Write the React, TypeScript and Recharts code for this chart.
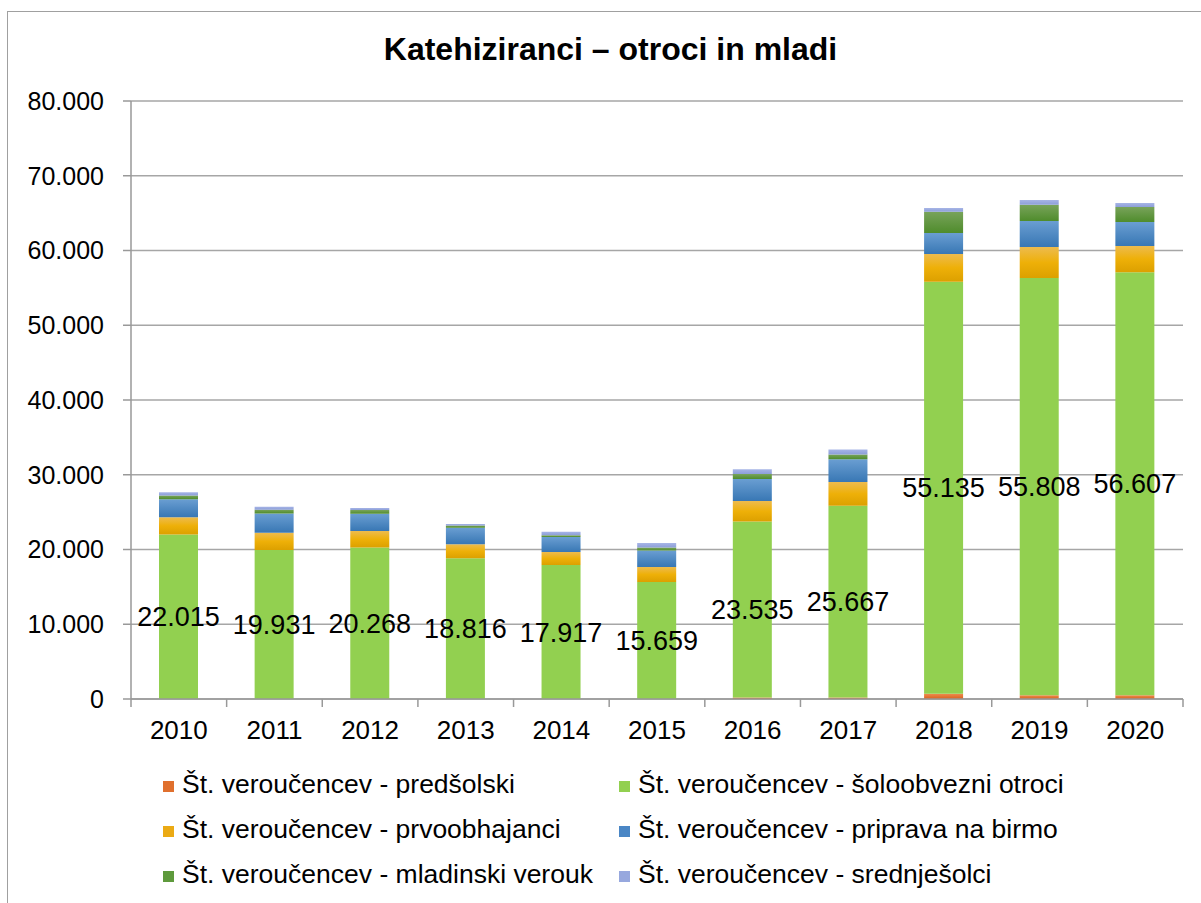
import React from "react"
import { BarChart, Bar, XAxis, YAxis, CartesianGrid, Legend, LabelList } from "recharts"

// Katehiziranci – otroci in mladi: stacked bars per year, 6 groups of pupils.

const years = ["2010", "2011", "2012", "2013", "2014", "2015", "2016", "2017", "2018", "2019", "2020"]
const predsolski = [0, 0, 0, 0, 0, 0, 200, 200, 700, 500, 500]
const soloobvezni = [22015, 19931, 20268, 18816, 17917, 15659, 23535, 25667, 55135, 55808, 56607]
const prvoobhajanci = [2300, 2300, 2200, 1900, 1750, 2000, 2750, 3150, 3700, 4150, 3500]
const birma = [2400, 2600, 2300, 2200, 2000, 2200, 2950, 3050, 2800, 3500, 3200]
const mladinski = [500, 500, 500, 300, 250, 400, 650, 650, 2850, 2150, 2000]
const srednjesolci = [450, 400, 300, 200, 450, 600, 650, 650, 500, 650, 550]
const yTicks = [0, 10000, 20000, 30000, 40000, 50000, 60000, 70000, 80000]

const SERIES = [
  { key: "predsolski", name: "Št. veroučencev - predšolski", fill: "url(#gOrange)", swatch: "#E0702E" },
  { key: "soloobvezni", name: "Št. veroučencev - šoloobvezni otroci", fill: "#92D050", swatch: "#92D050" },
  { key: "prvoobhajanci", name: "Št. veroučencev - prvoobhajanci", fill: "url(#gGold)", swatch: "#EBAA14" },
  { key: "birma", name: "Št. veroučencev - priprava na birmo", fill: "url(#gBlue)", swatch: "#4A86C5" },
  { key: "mladinski", name: "Št. veroučencev - mladinski verouk", fill: "url(#gDkGreen)", swatch: "#5E9A3C" },
  { key: "srednjesolci", name: "Št. veroučencev - srednješolci", fill: "url(#gLav)", swatch: "#97A8DE" },
]

const data = years.map((year, i) => ({
  year,
  predsolski: predsolski[i],
  soloobvezni: soloobvezni[i],
  prvoobhajanci: prvoobhajanci[i],
  birma: birma[i],
  mladinski: mladinski[i],
  srednjesolci: srednjesolci[i],
}))

const FONT = "'Liberation Sans', Arial, sans-serif"
const W = 1201
const H = 903
const PLOT_LEFT = 131
const PLOT_RIGHT = 1183
const BAND = (PLOT_RIGHT - PLOT_LEFT) / years.length

const fmt = (v: number) => String(v).replace(/\B(?=(\d{3})+(?!\d))/g, ".")

function YearTick(props: any) {
  const { x, y, payload, index } = props
  const last = index === years.length - 1
  return (
    <g>
      <line x1={x - BAND / 2} y1={y} x2={x - BAND / 2} y2={y + 8} stroke="#999" strokeWidth={1.5} />
      {last && <line x1={x + BAND / 2} y1={y} x2={x + BAND / 2} y2={y + 8} stroke="#999" strokeWidth={1.5} />}
      <text x={x} y={y + 40} textAnchor="middle" fontSize={26} fill="#000" fontFamily={FONT}>
        {payload.value}
      </text>
    </g>
  )
}

function LegendGrid() {
  return (
    <div style={{ position: "relative", width: W, height: 120, fontFamily: FONT, fontSize: 26.5, color: "#000" }}>
      {SERIES.map((s, i) => {
        const col = i % 2
        const row = Math.floor(i / 2)
        const left = col === 0 ? 163 : 619
        const top = 13 + row * 45
        return (
          <div key={s.key} style={{ position: "absolute", left, top, height: 45, display: "flex", alignItems: "center", whiteSpace: "nowrap" }}>
            <span style={{ display: "inline-block", width: 11, height: 11, background: s.swatch, marginRight: 8, marginTop: 4 }} />
            <span>{s.name}</span>
          </div>
        )
      })}
    </div>
  )
}

export default function App() {
  return (
    <div style={{ position: "absolute", left: 0, top: 0, width: W, height: H, background: "#fff", overflow: "hidden" }}>
      <div style={{ position: "absolute", left: 7, top: 11, width: 1210, height: 920, border: "1.5px solid #A0A0A0" }} />
      <div
        style={{
          position: "absolute",
          left: 10,
          top: 31,
          width: W,
          textAlign: "center",
          fontFamily: FONT,
          fontWeight: "bold",
          fontSize: 32,
          lineHeight: "36px",
          color: "#000",
        }}
      >
        Katehiziranci – otroci in mladi
      </div>
      <div style={{ position: "absolute", left: 0, top: 0 }}>
        <BarChart
          width={W}
          height={H}
          data={data}
          margin={{ top: 101, right: W - PLOT_RIGHT, left: PLOT_LEFT - 100, bottom: 34 }}
          barSize={39}
        >
          <defs>
            <linearGradient id="gOrange" x1="0" y1="0" x2="0" y2="1">
              <stop offset="0%" stopColor="#EE8A4E" />
              <stop offset="100%" stopColor="#D8621E" />
            </linearGradient>
            <linearGradient id="gGold" x1="0" y1="0" x2="0" y2="1">
              <stop offset="0%" stopColor="#EDBB4E" />
              <stop offset="50%" stopColor="#EEB008" />
              <stop offset="100%" stopColor="#DCA000" />
            </linearGradient>
            <linearGradient id="gBlue" x1="0" y1="0" x2="0" y2="1">
              <stop offset="0%" stopColor="#6A9ED2" />
              <stop offset="100%" stopColor="#3877B4" />
            </linearGradient>
            <linearGradient id="gDkGreen" x1="0" y1="0" x2="0" y2="1">
              <stop offset="0%" stopColor="#78A35A" />
              <stop offset="100%" stopColor="#4F8C2C" />
            </linearGradient>
            <linearGradient id="gLav" x1="0" y1="0" x2="0" y2="1">
              <stop offset="0%" stopColor="#A7B5E6" />
              <stop offset="100%" stopColor="#8C9ED8" />
            </linearGradient>
          </defs>
          <CartesianGrid vertical={false} stroke="#A6A6A6" strokeWidth={1.5} />
          <XAxis
            dataKey="year"
            height={50}
            tickLine={false}
            tickSize={0}
            tickMargin={0}
            axisLine={{ stroke: "#999", strokeWidth: 1.5 }}
            tick={<YearTick />}
            interval={0}
          />
          <YAxis
            width={100}
            domain={[0, 80000]}
            ticks={yTicks}
            tickFormatter={fmt}
            tickSize={8}
            tickMargin={19}
            axisLine={{ stroke: "#999", strokeWidth: 1.5 }}
            tickLine={{ stroke: "#999", strokeWidth: 1.5 }}
            tick={{ fontSize: 25, fill: "#000", fontFamily: FONT }}
          />
          <Legend
            verticalAlign="bottom"
            height={120}
            wrapperStyle={{ left: 0, width: W }}
            content={() => <LegendGrid />}
          />
          {SERIES.map((s) => (
            <Bar key={s.key} dataKey={s.key} name={s.name} stackId="a" fill={s.fill} isAnimationActive={false}>
              {s.key === "soloobvezni" && (
                <LabelList
                  dataKey="soloobvezni"
                  position="center"
                  formatter={(v: any) => fmt(Number(v))}
                  style={{ fontSize: 27, fill: "#000", fontFamily: FONT }}
                />
              )}
            </Bar>
          ))}
        </BarChart>
      </div>
    </div>
  )
}
